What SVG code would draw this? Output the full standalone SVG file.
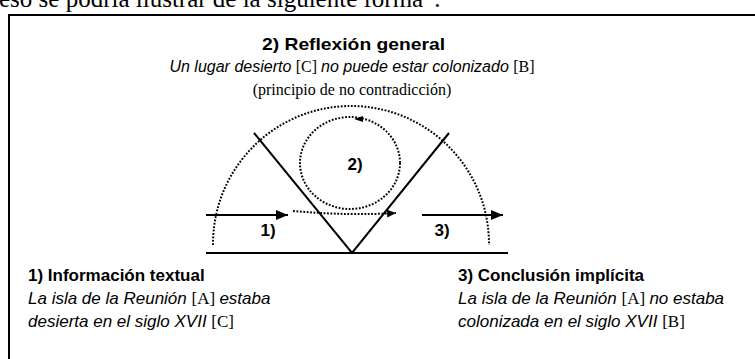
<svg xmlns="http://www.w3.org/2000/svg" width="755" height="359" viewBox="0 0 755 359">
<style>
.ser{font-family:"Liberation Serif","Times New Roman",serif}
.san{font-family:"Liberation Sans",Arial,sans-serif}
.b{font-weight:bold}
.i{font-style:italic}
.ln{stroke:#000;stroke-width:2;fill:none}
.dot{stroke:#000;stroke-width:2;fill:none;stroke-dasharray:1.8 1.6}
</style>
<defs>
<marker id="ah" markerWidth="12" markerHeight="10" refX="12" refY="5" orient="auto" markerUnits="userSpaceOnUse">
<path d="M0,0 L12,5 L0,10 Z" fill="#000"/>
</marker>
<marker id="ahs" markerWidth="9" markerHeight="8" refX="9" refY="4" orient="auto" markerUnits="userSpaceOnUse">
<path d="M0,0 L9,4 L0,8 Z" fill="#000"/>
</marker>
</defs>
<rect width="755" height="359" fill="#fff"/>
<text class="ser" x="-1" y="7" font-size="25">eso se podría ilustrar de la siguiente forma”.</text>
<path d="M9,359 V15 H755" stroke="#000" stroke-width="2" fill="none"/>

<g id="reflexion">
<text class="san b" x="262" y="50" font-size="17" textLength="183" lengthAdjust="spacingAndGlyphs">2) Reflexión general</text>
<text x="352" y="72" font-size="16" text-anchor="middle"><tspan class="san i">Un lugar desierto </tspan><tspan class="ser">[C] </tspan><tspan class="san i">no puede estar colonizado </tspan><tspan class="ser">[B]</tspan></text>
<text class="ser" x="352" y="95" font-size="16" text-anchor="middle">(principio de no contradicción)</text>
</g>

<g id="informacion">
<text class="san b" x="28" y="281" font-size="17">1) Información textual</text>
<text x="28" y="304" font-size="17"><tspan class="san i">La isla de la Reunión </tspan><tspan class="ser">[A] </tspan><tspan class="san i">estaba</tspan></text>
<text x="28" y="327" font-size="17"><tspan class="san i">desierta en el siglo XVII </tspan><tspan class="ser">[C]</tspan></text>
</g>

<g id="conclusion">
<text class="san b" x="458" y="281" font-size="17">3) Conclusión implícita</text>
<text x="458" y="304" font-size="17"><tspan class="san i">La isla de la Reunión </tspan><tspan class="ser">[A] </tspan><tspan class="san i">no estaba</tspan></text>
<text x="458" y="327" font-size="17"><tspan class="san i">colonizada en el siglo XVII </tspan><tspan class="ser">[B]</tspan></text>
</g>

<g id="diagram">
<path class="ln" d="M206,253 H508"/>
<path class="ln" d="M254,133 L352,253 L449,133"/>
<path class="dot" d="M213,245 V244 A138,138 0 0 1 489,244 V245"/>
<ellipse class="dot" cx="350" cy="163" rx="50" ry="46"/>
<path d="M363,116 L354,119 L363,122 Z" fill="#000"/>
<path class="dot" d="M293,211 Q350,216 396,213" marker-end="url(#ahs)"/>
<text class="san b" x="355" y="170" font-size="17" text-anchor="middle">2)</text>
<text class="san b" x="268" y="236" font-size="17" text-anchor="middle">1)</text>
<text class="san b" x="442" y="236" font-size="17" text-anchor="middle">3)</text>
</g>

<g id="connectors">
<path class="ln" d="M206,215 H288" marker-end="url(#ah)"/>
<path class="ln" d="M422,215 H503" marker-end="url(#ah)"/>
</g>
</svg>
